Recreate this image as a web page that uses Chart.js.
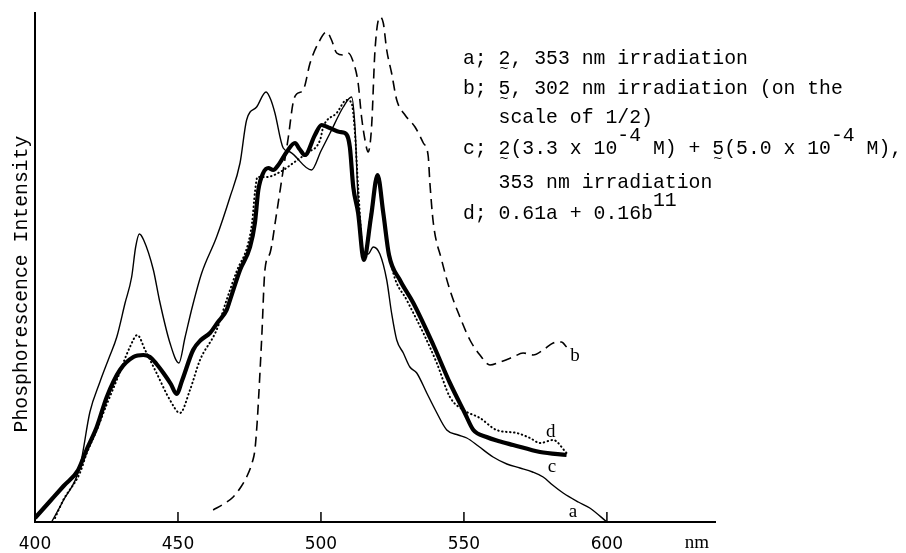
<!DOCTYPE html>
<html>
<head>
<meta charset="utf-8">
<script src="https://cdn.jsdelivr.net/npm/chart.js@4.4.0/dist/chart.umd.min.js"></script>
<style>
  html, body { margin: 0; background: #fff; }
  canvas { display: block; }
</style>
</head>
<body>
<canvas id="chart" width="906" height="553"></canvas>
<script>
  // wavelengths (nm) and intensities (arbitrary units)
  const aNm  = [405.8, 410, 415.7, 419.2, 422.7, 426, 428.6, 431.5, 433.8, 435.2, 436.5, 438, 441.4, 443.5, 447.2, 450.3, 452.5, 455, 458.3, 463.5, 468.2, 471.7, 474, 477.5, 480.8, 482.5, 483.9, 486.8, 489.2, 496.7, 500, 503.2, 507.8, 510.7, 511.9, 513, 514.2, 515, 516.5, 518.3, 520.6, 523, 524.7, 526.5, 528.8, 531.1, 533.5, 537, 540, 544, 548, 551, 555, 560.2, 565, 569.6, 574, 577.7, 581, 584.7, 590, 594, 600];
  const aVal = [0, 22, 55, 110, 140, 165, 185, 219, 245, 275, 288, 282, 252, 222, 179, 159, 185, 215, 249, 285, 325, 359, 402, 415, 430, 422, 409, 374, 370, 352, 371, 389, 415, 425, 395, 322, 282, 268, 268, 275, 268, 242, 209, 182, 169, 155, 149, 129, 112, 92, 87, 84, 76, 65, 58, 54, 50, 45, 37, 29, 20, 14, 0];

  const bNm  = [462.3, 466, 469.3, 472, 474, 476, 476.9, 477.7, 478.1, 479.3, 480.4, 482.2, 484.5, 486.8, 488.6, 490.3, 491.5, 493.8, 496.2, 499.1, 502, 503.7, 505.5, 507.8, 509.5, 511.3, 513, 514.2, 515.4, 516.5, 517.7, 518.9, 520.6, 521.8, 523, 524.7, 526.5, 529.4, 532.9, 535.8, 537.5, 538.1, 539.3, 542.2, 545.1, 548.6, 552.1, 555.6, 559.1, 562.6, 567.2, 570.7, 574.2, 577.7, 581.2, 584.1, 585.9];
  const bVal = [12, 18, 25, 35, 45, 60, 72, 100, 119, 185, 252, 269, 309, 352, 385, 420, 428, 432, 459, 479, 490, 482, 469, 467, 469, 460, 439, 405, 382, 370, 395, 472, 505, 499, 472, 449, 422, 407, 395, 379, 366, 339, 299, 262, 232, 205, 182, 167, 157, 160, 165, 169, 167, 172, 179, 180, 175];

  const cNm  = [400, 405, 410, 415.1, 418, 421.6, 425.1, 429.7, 434.4, 437.9, 440.2, 442.5, 444.9, 447.5, 449.5, 451.5, 455.3, 458, 461.2, 464, 467, 468.2, 471.7, 475.2, 476.9, 478.1, 479.8, 481.6, 483.3, 485.1, 488, 490.9, 492.5, 494.4, 497.9, 500.2, 503.1, 506.6, 508.4, 510.1, 511.3, 513, 515, 517.5, 519.8, 521.8, 523.8, 527.6, 532.3, 539.3, 545.1, 550.3, 553.3, 557.9, 562, 567.2, 576.6, 585.9];
  const cVal = [4, 20, 36, 52, 72, 95, 125, 152, 165, 167, 165, 158, 149, 138, 128, 142, 172, 182, 189, 200, 212, 222, 252, 275, 299, 332, 349, 354, 352, 357, 370, 379, 373, 367, 387, 397, 394, 390, 389, 375, 335, 309, 262, 305, 347, 309, 267, 242, 219, 177, 139, 109, 92, 85, 81, 77, 70, 67];

  const dNm  = [407, 409.9, 415.7, 418, 421.6, 425, 428.6, 433.2, 435.8, 438.5, 442.5, 447.2, 450.7, 454.2, 457.7, 463.5, 467, 470.7, 474.2, 475.9, 477, 477.8, 481, 485.7, 490.3, 495, 499.7, 500.8, 505.5, 509, 510.7, 511.9, 513, 515, 517.5, 519.8, 521.8, 525.3, 530, 535.8, 540.5, 545.1, 549.8, 555.6, 561.4, 568.4, 573.1, 576.6, 581.2, 585.9];
  const dVal = [4, 22, 49, 68, 92, 117, 142, 175, 187, 172, 149, 122, 109, 132, 162, 192, 222, 252, 275, 299, 332, 345, 345, 350, 359, 369, 382, 395, 409, 422, 419, 389, 335, 265, 310, 345, 305, 249, 222, 189, 159, 125, 112, 104, 92, 89, 84, 79, 82, 69];

  const xTicks = [400, 450, 500, 550, 600];

  // curve letters: [letter, nm, intensity]
  const curveLabels = [['a', 588.1, 10], ['b', 588.8, 166], ['c', 580.8, 55], ['d', 580.4, 90]];

  const pts = (xs, ys) => xs.map((x, i) => ({ x: x, y: ys[i] }));

  const mono = '"Liberation Mono", monospace';

  // one legend line: parts are [text, superscript?], tildes = columns to underline with ~
  function drawLine(ctx, x, y, parts, tildes) {
    ctx.font = '19.8px ' + mono;
    const cw = ctx.measureText('M').width;
    let col = 0;
    parts.forEach(p => {
      ctx.fillText(p[0], x + col * cw, p[1] ? y - 13 : y);
      col += p[0].length;
    });
    ctx.font = '15px ' + mono;
    (tildes || []).forEach(c => {
      ctx.fillText('~', x + c * cw + 1, y + 9);
    });
  }

  const extras = {
    id: 'extras',
    afterDraw(chart) {
      const ctx = chart.ctx;
      const xs = chart.scales.x, ys = chart.scales.y;
      const base = chart.chartArea.bottom;
      ctx.save();
      ctx.strokeStyle = '#000';
      ctx.lineWidth = 1.5;
      xTicks.slice(1).forEach(v => {
        const px = xs.getPixelForValue(v);
        ctx.beginPath();
        ctx.moveTo(px, base);
        ctx.lineTo(px, base - 10);
        ctx.stroke();
      });

      ctx.fillStyle = '#000';
      ctx.textBaseline = 'middle';
      ctx.textAlign = 'center';
      ctx.font = '19px "Liberation Serif", serif';
      ctx.fillText('nm', 697, 543);
      curveLabels.forEach(l => {
        ctx.fillText(l[0], xs.getPixelForValue(l[1]), ys.getPixelForValue(l[2]));
      });

      // y axis title
      ctx.font = '19.8px ' + mono;
      ctx.save();
      ctx.translate(22, 284);
      ctx.rotate(-Math.PI / 2);
      ctx.fillText('Phosphorescence Intensity', 0, 0);
      ctx.restore();

      // key
      ctx.textAlign = 'left';
      ctx.textBaseline = 'alphabetic';
      const lx = 463;
      drawLine(ctx, lx, 64, [['a; 2, 353 nm irradiation', false]], [3]);
      drawLine(ctx, lx, 94, [['b; 5, 302 nm irradiation (on the', false]], [3]);
      drawLine(ctx, lx, 123, [['   scale of 1/2)', false]]);
      drawLine(ctx, lx, 154, [['c; 2(3.3 x 10', false], ['-4', true], [' M) + 5(5.0 x 10', false], ['-4', true], [' M),', false]], [3, 21]);
      drawLine(ctx, lx, 188, [['   353 nm irradiation', false]]);
      drawLine(ctx, lx, 219, [['d; 0.61a + 0.16b', false], ['11', true]]);
      ctx.restore();
    }
  };

  new Chart(document.getElementById('chart'), {
    type: 'line',
    data: {
      datasets: [
        { data: pts(aNm, aVal), borderColor: '#000', borderWidth: 1.4 },
        { data: pts(bNm, bVal), borderColor: '#000', borderWidth: 1.6, borderDash: [10, 6] },
        { data: pts(cNm, cVal), borderColor: '#000', borderWidth: 4.2 },
        { data: pts(dNm, dVal), borderColor: '#000', borderWidth: 2, borderDash: [0.5, 3.5], borderCapStyle: 'round' }
      ]
    },
    options: {
      responsive: false,
      animation: false,
      parsing: false,
      elements: { point: { radius: 0 }, line: { cubicInterpolationMode: 'monotone', fill: false } },
      layout: { padding: { top: 13, right: 191, left: 0, bottom: 0 } },
      plugins: { legend: { display: false }, tooltip: { enabled: false } },
      scales: {
        x: {
          type: 'linear', min: 400, max: 637.8,
          afterFit: s => { s.height = 31; },
          afterBuildTicks: s => { s.ticks = xTicks.map(v => ({ value: v })); },
          grid: { display: false, drawTicks: false },
          border: { display: true, color: '#000', width: 2 },
          ticks: { padding: 12, maxRotation: 0, autoSkip: false, color: '#000', font: { family: 'DejaVu Sans', size: 17 } }
        },
        y: {
          min: 0, max: 509,
          afterFit: s => { s.width = 35; },
          grid: { display: false, drawTicks: false },
          border: { display: true, color: '#000', width: 2 },
          ticks: { display: false }
        }
      }
    },
    plugins: [extras]
  });
</script>
</body>
</html>
